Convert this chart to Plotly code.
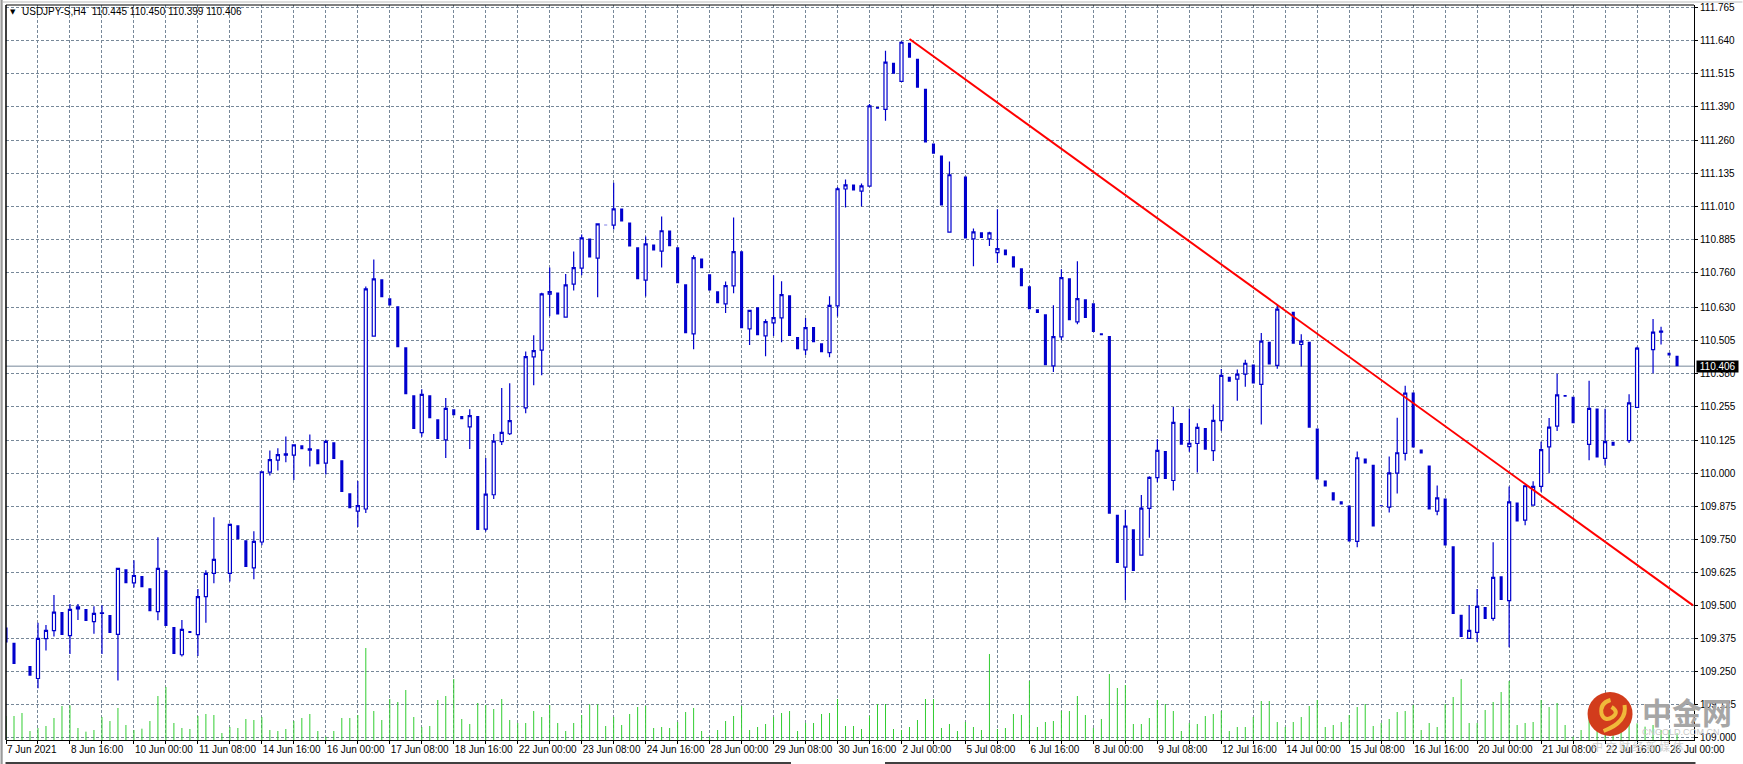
import plotly.graph_objects as go

opens = [
109.416,109.358,None,109.270,109.223,109.374,109.404,109.475,109.385,109.487,
109.486,109.438,109.470,109.463,109.390,109.637,109.585,109.611,109.565,109.476,
109.633,109.418,109.313,109.403,109.389,109.533,109.621,None,109.621,109.803,
109.747,109.642,109.740,110.005,110.050,110.069,110.069,110.106,110.088,110.091,
110.039,110.118,110.050,109.925,109.857,109.865,110.520,110.735,110.663,110.633,
110.478,110.296,110.154,110.296,110.205,110.127,110.243,110.217,110.176,110.217,
109.789,109.919,110.120,110.150,110.254,110.248,110.441,110.467,110.679,110.685,
110.592,110.717,110.777,110.890,110.815,110.942,110.940,111.003,110.950,110.856,
110.732,110.867,110.842,110.920,110.856,110.716,110.528,110.814,110.754,110.690,
110.642,110.710,110.841,110.547,110.629,110.521,110.570,110.589,110.675,110.516,
110.468,110.554,110.493,110.457,110.634,111.077,111.094,111.069,111.088,111.388,
111.379,111.555,111.485,111.631,111.570,111.457,111.249,111.204,110.914,None,
111.124,110.888,110.913,110.888,110.836,110.848,110.822,110.777,110.709,110.622,
110.603,110.407,110.517,110.739,110.574,110.659,110.644,110.531,110.520,109.843,
109.645,109.788,109.690,109.867,109.984,110.085,109.973,110.191,110.101,110.113,
110.172,110.086,110.200,110.366,110.357,110.376,110.412,110.337,110.498,110.409,
None,110.612,110.488,110.498,110.170,109.973,109.928,109.894,109.878,109.742,
110.056,110.033,109.879,109.872,110.001,110.076,110.306,110.090,110.030,109.857,
109.905,109.724,109.464,109.375,109.398,109.494,109.451,109.610,109.518,109.890,
109.823,109.880,109.951,110.100,110.179,110.297,110.290,None,110.110,110.246,
110.057,110.120,None,110.124,110.250,None,110.469,110.535,110.457,110.445,
]
closes = [
109.359,109.278,None,109.233,109.375,109.405,109.474,109.388,109.485,109.494,
109.441,109.470,109.472,109.395,109.640,109.584,109.613,109.569,109.478,109.640,
109.422,109.316,109.409,109.395,109.533,109.621,109.674,None,109.807,109.750,
109.645,109.742,110.006,110.052,110.071,110.074,110.108,110.091,110.093,110.034,
110.121,110.054,109.929,109.868,109.878,110.699,110.737,110.667,110.636,110.478,
110.300,110.168,110.299,110.209,110.130,110.246,110.220,110.205,110.219,109.785,
109.921,110.122,110.155,110.200,110.252,110.442,110.465,110.680,110.688,110.602,
110.714,110.779,110.892,110.818,110.945,110.940,111.002,110.954,110.859,110.735,
110.869,110.844,110.919,110.860,110.720,110.531,110.817,110.777,110.693,110.644,
110.711,110.840,110.550,110.617,110.523,110.575,110.590,110.677,110.520,110.470,
110.552,110.497,110.459,110.636,111.078,111.093,111.071,111.089,111.392,111.381,
111.558,111.514,111.633,111.574,111.461,111.253,111.211,111.015,111.131,None,
110.890,110.915,110.891,110.911,110.851,110.826,110.780,110.709,110.622,110.607,
110.409,110.518,110.741,110.580,110.662,110.588,110.535,110.523,109.847,109.660,
109.800,109.630,109.868,109.985,110.087,109.979,110.193,110.108,110.114,110.174,
110.089,110.201,110.371,110.347,110.376,110.417,110.340,110.501,110.412,110.622,
None,110.491,110.501,110.173,109.977,109.950,109.897,109.882,109.742,110.059,
110.037,109.799,109.875,110.002,110.078,110.304,110.098,110.075,109.863,109.907,
109.727,109.467,109.380,109.405,109.496,109.448,109.606,109.520,109.892,109.818,
109.953,109.951,110.090,110.175,110.297,110.290,110.190,None,110.246,110.060,
110.120,110.105,None,110.267,110.474,None,110.535,110.539,110.446,110.406,
]
highs = [
109.416,109.358,None,109.270,109.434,109.426,109.539,109.475,109.505,109.505,
109.486,109.497,109.500,109.463,109.640,109.637,109.671,109.611,109.565,109.758,
109.633,109.418,109.445,109.403,109.562,109.633,109.834,None,109.810,109.803,
109.747,109.781,110.008,110.087,110.095,110.140,110.108,110.106,110.147,110.091,
110.127,110.118,110.050,109.925,109.971,110.708,110.810,110.735,110.663,110.633,
110.478,110.296,110.319,110.296,110.205,110.285,110.243,110.217,110.243,110.217,
110.058,110.149,110.323,110.341,110.254,110.462,110.523,110.684,110.780,110.685,
110.755,110.840,110.905,110.890,110.945,110.942,111.101,111.003,110.950,110.856,
110.897,110.867,110.973,110.920,110.856,110.716,110.826,110.814,110.754,110.690,
110.727,110.969,110.841,110.620,110.629,110.584,110.750,110.728,110.675,110.516,
110.588,110.554,110.493,110.671,111.085,111.113,111.094,111.098,111.399,111.388,
111.601,111.555,111.637,111.631,111.570,111.457,111.249,111.204,111.181,None,
111.124,110.927,110.913,110.915,111.000,110.848,110.822,110.777,110.709,110.622,
110.603,110.637,110.773,110.739,110.803,110.659,110.644,110.531,110.520,109.843,
109.862,109.788,109.918,109.989,110.129,110.085,110.251,110.191,110.246,110.190,
110.172,110.261,110.395,110.366,110.393,110.430,110.412,110.532,110.498,110.638,
None,110.612,110.527,110.498,110.170,109.973,109.928,109.894,109.878,110.083,
110.056,110.033,109.879,110.064,110.211,110.332,110.306,110.090,110.030,109.954,
109.905,109.724,109.464,109.501,109.562,109.494,109.739,109.610,109.950,109.890,
109.957,109.970,110.120,110.210,110.377,110.297,110.290,None,110.351,110.246,
110.245,110.120,None,110.300,110.480,None,110.585,110.555,110.457,110.445,
]
lows = [
109.359,109.278,None,109.233,109.186,109.329,109.382,109.388,109.316,109.445,
109.441,109.392,109.316,109.395,109.215,109.584,109.568,109.569,109.478,109.444,
109.422,109.316,109.306,109.395,109.308,109.434,109.584,None,109.590,109.750,
109.645,109.599,109.728,109.992,110.011,110.042,109.975,110.091,110.026,110.034,
109.996,110.054,109.929,109.868,109.797,109.850,110.520,110.667,110.636,110.478,
110.300,110.168,110.139,110.209,110.130,110.058,110.220,110.205,110.092,109.785,
109.780,109.903,110.107,110.145,110.252,110.228,110.334,110.372,110.595,110.602,
110.592,110.693,110.750,110.818,110.667,110.940,110.924,110.954,110.859,110.735,
110.670,110.844,110.780,110.860,110.720,110.531,110.470,110.777,110.693,110.644,
110.607,110.682,110.550,110.486,110.523,110.444,110.520,110.497,110.520,110.470,
110.448,110.497,110.459,110.440,110.594,111.007,111.071,111.011,111.088,111.381,
111.336,111.514,111.485,111.574,111.461,111.253,111.211,111.015,110.914,None,
110.890,110.784,110.891,110.861,110.797,110.826,110.780,110.709,110.622,110.607,
110.409,110.384,110.504,110.580,110.565,110.588,110.535,110.523,109.847,109.660,
109.520,109.630,109.690,109.756,109.966,109.979,109.935,110.108,110.082,110.003,
110.089,110.047,110.161,110.347,110.275,110.328,110.340,110.185,110.412,110.396,
None,110.491,110.405,110.173,109.977,109.950,109.897,109.882,109.742,109.720,
110.037,109.799,109.875,109.852,109.924,110.049,110.098,110.075,109.863,109.841,
109.727,109.467,109.380,109.375,109.361,109.448,109.442,109.520,109.341,109.818,
109.803,109.880,109.930,110.000,110.160,110.290,110.190,None,110.050,110.060,
110.030,110.105,None,110.115,110.250,None,110.379,110.488,110.446,110.406,
]
volumes = [
72,72,81,27,36,42,66,102,104,36,
25,30,69,57,96,45,30,34,57,132,
159,51,36,33,72,78,75,21,39,36,
63,60,69,30,27,33,57,66,78,27,
10,27,66,66,75,276,87,60,123,114,
150,69,39,42,120,132,183,63,48,111,
105,93,123,60,51,51,87,69,105,51,
27,51,75,107,107,42,69,45,78,99,
102,36,39,36,54,84,96,27,10,30,
57,72,102,30,39,48,69,81,87,27,
51,51,78,81,123,42,42,
33,72,108,108,33,30,39,60,123,123,
36,48,27,54,39,30,258,33,36,78,
75,177,39,54,57,87,87,132,75,36,
63,198,156,165,48,48,66,120,108,87,
27,51,48,72,78,87,27,39,39,69,
117,117,54,39,54,69,102,120,39,45,
54,75,99,108,42,51,63,84,87,105,
30,51,39,108,129,183,51,51,90,114,
144,177,45,51,54,120,99,111,45,10,
30,75,70,80,60,85,100,50,40,45,30,30,20,
]
trend_bars = [113, 211]
trend_prices = [111.645, 109.50]
last_price = 110.406

price_ticks = [111.765,111.64,111.515,111.39,111.26,111.135,111.01,110.885,110.76,110.63,110.505,110.38,
               110.255,110.125,110.0,109.875,109.75,109.625,109.5,109.375,109.25,109.125,109.0]
time_labels = ["7 Jun 2021","8 Jun 16:00","10 Jun 00:00","11 Jun 08:00","14 Jun 16:00","16 Jun 00:00",
               "17 Jun 08:00","18 Jun 16:00","22 Jun 00:00","23 Jun 08:00","24 Jun 16:00","28 Jun 00:00",
               "29 Jun 08:00","30 Jun 16:00","2 Jul 00:00","5 Jul 08:00","6 Jul 16:00","8 Jul 00:00",
               "9 Jul 08:00","12 Jul 16:00","14 Jul 00:00","15 Jul 08:00","16 Jul 16:00","20 Jul 00:00",
               "21 Jul 08:00","22 Jul 16:00","26 Jul 00:00"]

W, H = 1743, 764
L, R, T, B = 5.5, 1694.5, 5, 740
BLUE = "#0000CD"
GRID = "#778899"
FONT = "Liberation Sans"

def px(x): return (x - L) / (R - L)
def py(y): return (B - y) / (B - T)

bars = list(range(len(opens)))
vol_x, vol_y = [], []
for b, v in zip(bars, volumes):
    vol_x += [b, b, None]
    vol_y += [0, v, None]

tick_bars = list(range(0, 212, 4))
tick_text = [time_labels[b // 8] if b % 8 == 0 and b // 8 < len(time_labels) else "" for b in tick_bars]

fig = go.Figure()
fig.add_trace(go.Scatter(x=vol_x, y=vol_y, mode="lines", line=dict(color="#32CD32", width=1),
                         hoverinfo="skip", xaxis="x", yaxis="y"))
fig.add_trace(go.Candlestick(x=bars, open=opens, high=highs, low=lows, close=closes,
                             increasing=dict(line=dict(color=BLUE, width=1.2), fillcolor="#FFFFFF"),
                             decreasing=dict(line=dict(color=BLUE, width=0), fillcolor=BLUE),
                             whiskerwidth=0, xaxis="x", yaxis="y2"))
fig.add_trace(go.Scatter(x=trend_bars, y=trend_prices, mode="lines", line=dict(color="#FF0000", width=2),
                         hoverinfo="skip", xaxis="x", yaxis="y2"))

shapes = [
    dict(type="line", xref="paper", yref="y2", x0=0, x1=1, y0=last_price, y1=last_price,
         line=dict(color=GRID, width=1), layer="below"),
    dict(type="rect", xref="paper", yref="paper", x0=px(0), x1=px(2.2), y0=py(0), y1=py(H),
         fillcolor="#9A9A9A", line=dict(width=0), layer="above"),
    dict(type="line", xref="paper", yref="paper", x0=px(5), x1=px(791), y0=py(763), y1=py(763),
         line=dict(color="#000000", width=1.5)),
    dict(type="line", xref="paper", yref="paper", x0=px(885), x1=px(1696), y0=py(763), y1=py(763),
         line=dict(color="#000000", width=1.5)),
    dict(type="line", xref="paper", yref="paper", x0=px(2), x1=px(1743), y0=py(2), y1=py(2),
         line=dict(color="#BDBDBD", width=1)),
    dict(type="line", xref="paper", yref="paper", x0=0, x1=0, y0=0, y1=1, line=dict(color="#000000", width=1.5)),
    dict(type="line", xref="paper", yref="paper", x0=0, x1=1, y0=1, y1=1, line=dict(color="#000000", width=1)),
    # watermark logo
    dict(type="circle", xref="paper", yref="paper", x0=px(1588), x1=px(1633), y0=py(692), y1=py(736),
         fillcolor="#D23C1C", line=dict(width=0)),
]
swirl = "M {} {} Q {} {} {} {} Q {} {} {} {} Q {} {} {} {}".format(
    px(1611), py(700), px(1600), py(703), px(1602), py(714),
    px(1605), py(722), px(1613), py(717),
    px(1620), py(712), px(1612), py(707))
shapes.append(dict(type="path", xref="paper", yref="paper", path=swirl, line=dict(color="#F0B93A", width=4)))
swirl2 = "M {} {} Q {} {} {} {}".format(px(1625), py(705), px(1628), py(722), px(1604), py(731))
shapes.append(dict(type="path", xref="paper", yref="paper", path=swirl2, line=dict(color="#F0B93A", width=4)))

annotations = [
    dict(xref="paper", yref="paper", x=px(8), y=py(11.5), text="▼", showarrow=False, xanchor="left", yanchor="middle",
         font=dict(family="DejaVu Sans", size=7, color="#000000")),
    dict(xref="paper", yref="paper", x=px(20), y=py(11.5), text="USDJPY-S,H4  110.445 110.450 110.399 110.406",
         showarrow=False, xanchor="left", yanchor="middle", font=dict(family=FONT, size=10, color="#000000")),
    dict(xref="paper", yref="y2", x=px(1697), y=last_price, text=" 110.406 ", showarrow=False,
         xanchor="left", yanchor="middle", bgcolor="#000000", borderpad=0,
         font=dict(family=FONT, size=10, color="#FFFFFF")),
    dict(xref="paper", yref="paper", x=px(1640), y=py(711), text="<b>中金网</b>", showarrow=False, xanchor="left",
         yanchor="middle", font=dict(family="Noto Sans CJK SC", size=30, color="#A6A6A6")),
    dict(xref="paper", yref="paper", x=px(1640), y=py(732), text="CNGOLD.COM.CN", showarrow=False, xanchor="left",
         yanchor="middle", font=dict(family=FONT, size=9, color="#C8C8C8")),
    dict(xref="paper", yref="paper", x=px(1590), y=py(746), text="中 文 财 经 新 媒 体", showarrow=False, xanchor="left",
         yanchor="middle", font=dict(family="Noto Sans CJK SC", size=11, color="#D0D0D0")),
]

fig.update_layout(
    width=W, height=H, showlegend=False, paper_bgcolor="#FFFFFF", plot_bgcolor="#FFFFFF",
    margin=dict(l=L, r=W - R, t=T, b=H - B, autoexpand=False),
    boxmode="overlay", boxgap=0.45,
    shapes=shapes, annotations=annotations,
    xaxis=dict(range=[-0.0, 211.12], rangeslider=dict(visible=False), tickmode="array",
               tickvals=tick_bars, ticktext=tick_text, ticklabelposition="outside right",
               showgrid=True, gridcolor=GRID, griddash="3px,2px", gridwidth=1, zeroline=False,
               ticks="outside", ticklen=3, tickcolor="#000000", showline=True, linecolor="#000000",
               linewidth=1, mirror=False, tickfont=dict(family=FONT, size=10, color="#000000"), tickangle=0),
    yaxis=dict(range=[0, (B - T) * 3], visible=False, showgrid=False, zeroline=False, fixedrange=True),
    yaxis2=dict(range=[108.990, 111.774], overlaying="y", side="right", tickmode="array",
                tickvals=price_ticks, ticktext=[f"{p:.3f}" for p in price_ticks],
                showgrid=True, gridcolor=GRID, griddash="3px,2px", gridwidth=1, zeroline=False,
                ticks="outside", ticklen=3, tickcolor="#000000", showline=True, linecolor="#000000",
                linewidth=1, tickfont=dict(family=FONT, size=10, color="#000000")),
)

fig.write_html("out.html", config={"displayModeBar": False},
               post_script="document.body.style.margin='0';document.documentElement.style.overflow='hidden';")
